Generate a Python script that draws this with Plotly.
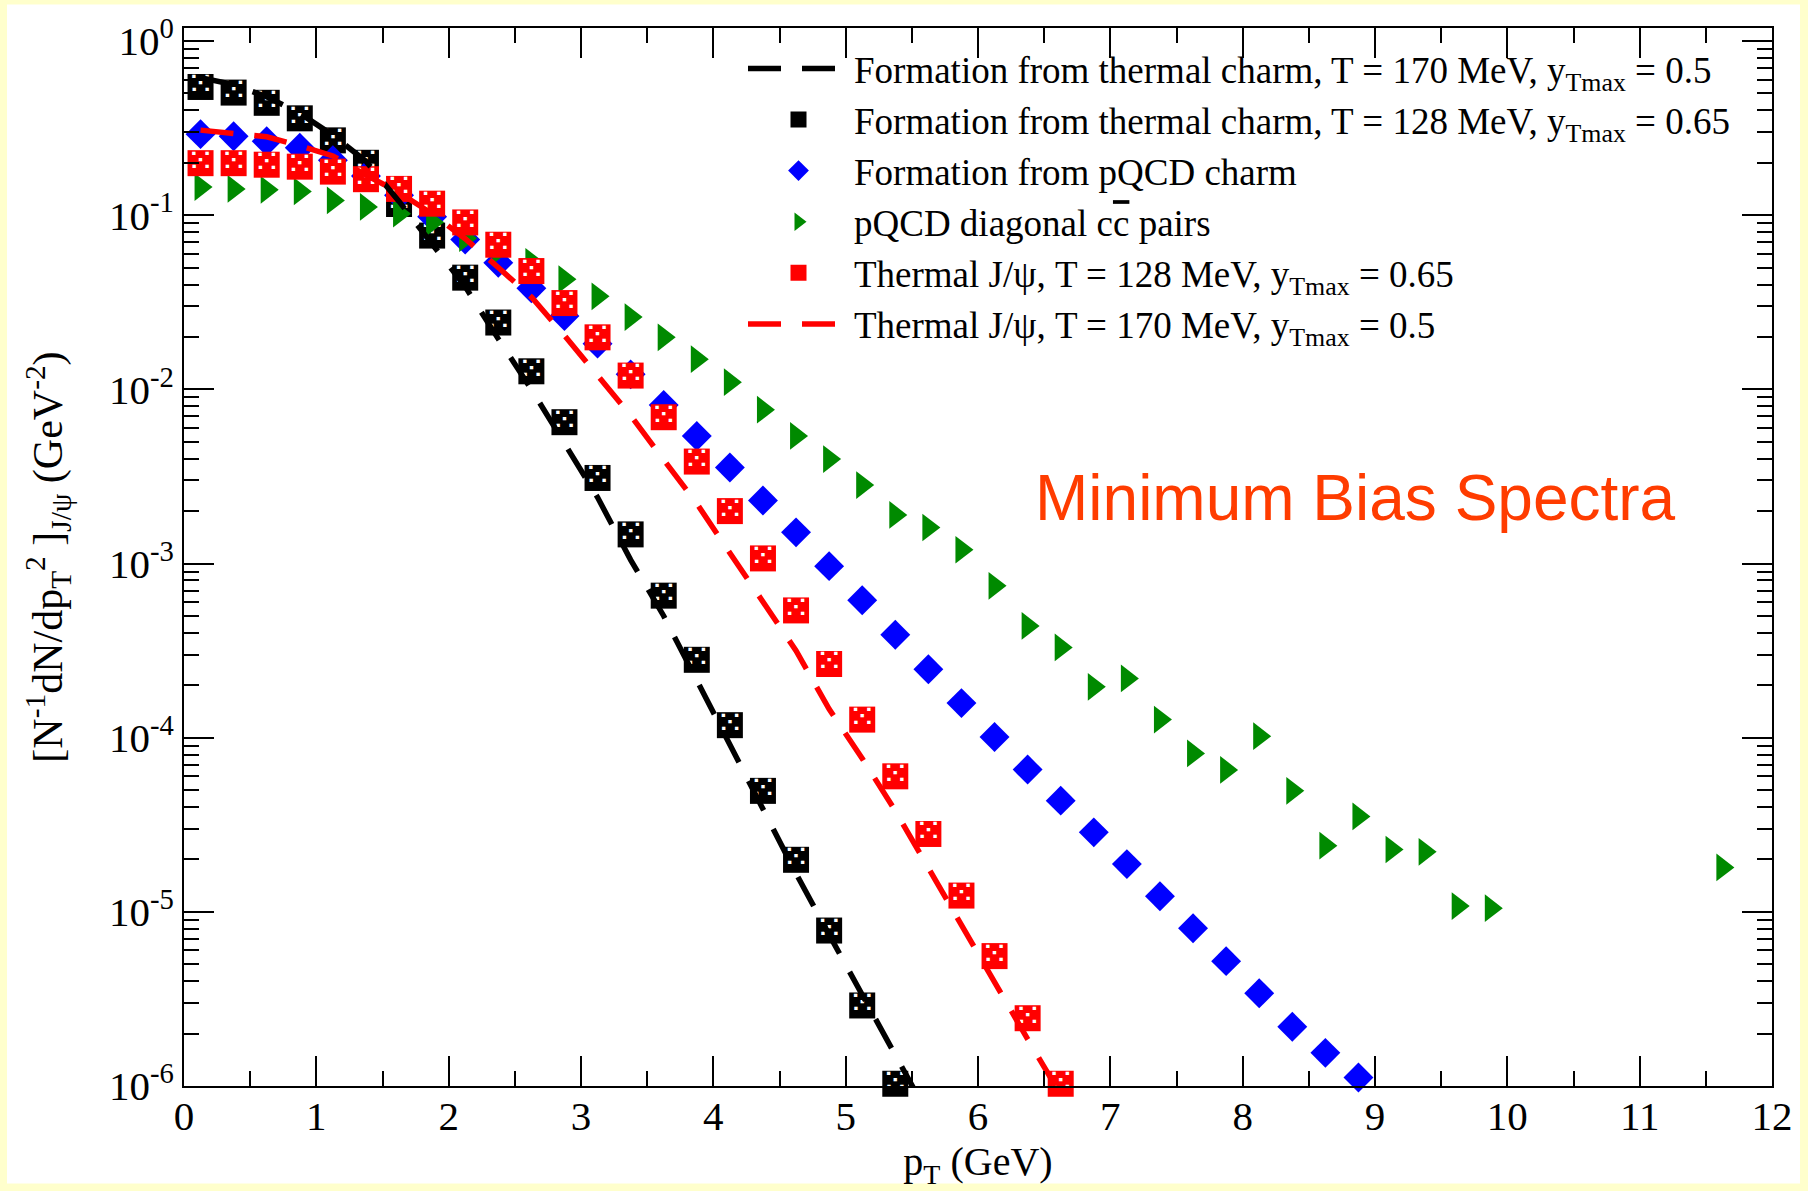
import plotly.graph_objects as go

# ---- data -------------------------------------------------------------
# transverse-momentum bins (GeV)
pt_black_sq = [0.125, 0.375, 0.625, 0.875, 1.125, 1.375, 1.625, 1.875, 2.125, 2.375,
               2.625, 2.875, 3.125, 3.375, 3.625, 3.875, 4.125, 4.375, 4.625, 4.875,
               5.125, 5.375]
black_sq = [0.545, 0.506, 0.442, 0.360, 0.269, 0.200, 0.116, 0.0764, 0.0438, 0.0242,
            0.0127, 0.00648, 0.0031, 0.00147, 6.54e-4, 2.80e-4, 1.18e-4, 4.95e-5, 1.99e-5, 7.81e-6,
            2.90e-6, 1.03e-6]

pt_black_line = [0.125, 0.375, 0.625, 0.875, 1.125, 1.375, 1.625, 1.875, 2.125, 2.375,
                 2.625, 2.875, 3.125, 3.375, 3.625, 3.875, 4.125, 4.375, 4.625, 4.875,
                 5.125, 5.375, 5.625]
black_line = [0.617, 0.562, 0.479, 0.385, 0.288, 0.204, 0.120, 0.0692, 0.0389, 0.0195,
              0.0100, 0.0049, 0.0024, 0.00105, 5.0e-4, 2.14e-4, 9.1e-5, 3.9e-5, 1.66e-5, 7.4e-6,
              3.3e-6, 1.48e-6, 6.8e-7]

pt_blue = [0.125, 0.375, 0.625, 0.875, 1.125, 1.375, 1.625, 1.875, 2.125, 2.375,
           2.625, 2.875, 3.125, 3.375, 3.625, 3.875, 4.125, 4.375, 4.625, 4.875,
           5.125, 5.375, 5.625, 5.875, 6.125, 6.375, 6.625, 6.875, 7.125, 7.375,
           7.625, 7.875, 8.125, 8.375, 8.625, 8.875]
blue_dia = [0.292, 0.284, 0.266, 0.244, 0.207, 0.168, 0.130, 0.098, 0.0725, 0.0533,
            0.0381, 0.0264, 0.0183, 0.0122, 0.00813, 0.0054, 0.00356, 0.0023, 0.00151, 9.66e-4,
            6.15e-4, 3.9e-4, 2.47e-4, 1.58e-4, 1.01e-4, 6.56e-5, 4.35e-5, 2.86e-5, 1.88e-5, 1.23e-5,
            8.05e-6, 5.21e-6, 3.41e-6, 2.19e-6, 1.55e-6, 1.12e-6]

pt_green = [0.125, 0.375, 0.625, 0.875, 1.125, 1.375, 1.625, 1.875, 2.125, 2.375,
            2.625, 2.875, 3.125, 3.375, 3.625, 3.875, 4.125, 4.375, 4.625, 4.875,
            5.125, 5.375, 5.625, 5.875, 6.125, 6.375, 6.625, 6.875, 7.125, 7.375,
            7.625, 7.875, 8.125, 8.375, 8.625, 8.875, 9.125, 9.375, 9.625, 9.875,
            11.625]
green_tri = [0.145, 0.1416, 0.140, 0.137, 0.1216, 0.1115, 0.102, 0.091, 0.0738, 0.0626,
             0.054, 0.0429, 0.0342, 0.026, 0.0199, 0.0149, 0.0110, 0.00764, 0.0054, 0.00398,
             0.00282, 0.0019, 0.00161, 0.0012, 7.45e-4, 4.38e-4, 3.3e-4, 1.96e-4, 2.19e-4, 1.27e-4,
             8.12e-5, 6.53e-5, 1.02e-4, 4.95e-5, 2.4e-5, 3.53e-5, 2.28e-5, 2.21e-5, 1.08e-5, 1.05e-5,
             1.8e-5]

pt_red_sq = [0.125, 0.375, 0.625, 0.875, 1.125, 1.375, 1.625, 1.875, 2.125, 2.375,
             2.625, 2.875, 3.125, 3.375, 3.625, 3.875, 4.125, 4.375, 4.625, 4.875,
             5.125, 5.375, 5.625, 5.875, 6.125, 6.375, 6.625]
red_sq = [0.199, 0.199, 0.195, 0.190, 0.178, 0.161, 0.1416, 0.1165, 0.0909, 0.0677,
          0.0478, 0.0313, 0.0199, 0.0120, 0.00692, 0.00385, 0.0020, 0.00107, 5.38e-4, 2.65e-4,
          1.27e-4, 6.0e-5, 2.8e-5, 1.24e-5, 5.57e-6, 2.45e-6, 1.03e-6]

pt_red_line = [0.125, 0.375, 0.625, 0.875, 1.125, 1.375, 1.625, 1.875, 2.125, 2.375,
               2.625, 2.875, 3.125, 3.375, 3.625, 3.875, 4.125, 4.375, 4.625, 4.875,
               5.125, 5.375, 5.625, 5.875, 6.125, 6.375, 6.625]
red_line = [0.308, 0.297, 0.282, 0.251, 0.219, 0.170, 0.135, 0.102, 0.0733, 0.0501,
            0.0339, 0.0204, 0.01216, 0.00708, 0.00394, 0.00221, 0.00115, 6.0e-4, 3.16e-4, 1.46e-4,
            7.6e-5, 3.8e-5, 1.78e-5, 8.3e-6, 3.98e-6, 1.86e-6, 8.9e-7]

y_tickvals = [1e-6, 1e-5, 1e-4, 1e-3, 1e-2, 1e-1, 1e0]
y_ticktext = ["10<sup>-6</sup>", "10<sup>-5</sup>", "10<sup>-4</sup>", "10<sup>-3</sup>",
              "10<sup>-2</sup>", "10<sup>-1</sup>", "10<sup>0</sup>"]

# ---- styling ----------------------------------------------------------
W, H = 1808, 1191
ML, MR, MT, MB = 184, 36, 13, 105
SERIF = "Liberation Serif, Times New Roman, serif"
BLACK, BLUE, GREEN, RED = "#000000", "#0000ff", "#008a00", "#ff0000"
DASH = "33px,21px"
DOTS = "\u2059"  # dotted fill texture drawn over the square markers

fig = go.Figure()


def dotted_overlay(x, y):
    return go.Scatter(x=x, y=y, mode="text", text=[DOTS] * len(x),
                      textfont=dict(color="white", size=34, family="DejaVu Sans"),
                      showlegend=False, hoverinfo="skip", cliponaxis=False)


fig.add_trace(go.Scatter(
    x=pt_black_sq, y=black_sq, mode="markers", legendrank=2, legendgroup="g2",
    name="Formation from thermal charm, T = 128 MeV, y<sub>Tmax</sub> = 0.65",
    marker=dict(symbol="square", size=26, color=BLACK, line=dict(width=0)),
    cliponaxis=False))
fig.add_trace(dotted_overlay(pt_black_sq, black_sq))

fig.add_trace(go.Scatter(
    x=pt_blue, y=blue_dia, mode="markers", legendrank=3, legendgroup="g3",
    name="Formation from pQCD charm",
    marker=dict(symbol="diamond", size=23, color=BLUE, line=dict(width=0)),
    cliponaxis=False))

fig.add_trace(go.Scatter(
    x=pt_green, y=green_tri, mode="markers", legendrank=4, legendgroup="g4",
    name="pQCD diagonal c<span style='text-decoration:overline'>c</span> pairs",
    marker=dict(symbol="triangle-right", size=24, color=GREEN, line=dict(width=0)),
    cliponaxis=False))

fig.add_trace(go.Scatter(
    x=pt_red_sq, y=red_sq, mode="markers", legendrank=5, legendgroup="g5",
    name="Thermal J/\u03c8, T = 128 MeV, y<sub>Tmax</sub> = 0.65",
    marker=dict(symbol="square", size=26, color=RED, line=dict(width=0)),
    cliponaxis=False))
fig.add_trace(dotted_overlay(pt_red_sq, red_sq))

fig.add_trace(go.Scatter(
    x=pt_black_line, y=black_line, mode="lines", legendrank=1, legendgroup="g1",
    name="Formation from thermal charm, T = 170 MeV, y<sub>Tmax</sub> = 0.5",
    line=dict(color=BLACK, width=5.5, dash=DASH)))

fig.add_trace(go.Scatter(
    x=pt_red_line, y=red_line, mode="lines", legendrank=6, legendgroup="g6",
    name="Thermal J/\u03c8, T = 170 MeV, y<sub>Tmax</sub> = 0.5",
    line=dict(color=RED, width=5.5, dash=DASH)))

pw = W - ML - MR
ph = H - MT - MB

# pale frame around the white page
fig.add_shape(type="rect", xref="paper", yref="paper", layer="below",
              x0=(7 - ML) / pw, x1=(W - 8 - ML) / pw,
              y0=-(H - 6 - MT - ph) / ph, y1=(MT + ph) / ph + 0.01,
              fillcolor="white", line=dict(width=0))

fig.add_annotation(text="Minimum Bias Spectra", xref="paper", yref="paper",
                   x=(1033 - ML) / pw, y=1 - (490 - MT) / ph,
                   xanchor="left", yanchor="middle", showarrow=False,
                   font=dict(family="Liberation Sans, Arial, sans-serif", size=64, color="#ff3c00"))

axis_common = dict(showline=True, linecolor="black", linewidth=2, mirror="ticks",
                   ticks="inside", ticklen=30, tickwidth=2, tickcolor="black",
                   showgrid=False, zeroline=False, ticklabeloverflow="allow",
                   tickfont=dict(family=SERIF, size=41, color="black"))

fig.update_xaxes(range=[0, 12], tick0=0, dtick=1, ticklabelstandoff=-7,
                 minor=dict(ticks="inside", dtick=0.5, ticklen=15, tickwidth=2, tickcolor="black"),
                 title=dict(text="p<sub>T</sub> (GeV)", font=dict(family=SERIF, size=40, color="black"),
                            standoff=2),
                 **axis_common)
fig.update_yaxes(type="log", range=[-6, 0.075], tickmode="array",
                 tickvals=y_tickvals, ticktext=y_ticktext,
                 minor=dict(ticks="inside", dtick="D1", ticklen=15, tickwidth=2, tickcolor="black"),
                 title=dict(text="[N<sup>-1</sup>dN/dp<sub>T</sub><sup>2</sup> ]<sub>J/\u03c8</sub> (GeV<sup>-2</sup>)",
                            font=dict(family=SERIF, size=42, color="black"), standoff=33),
                 **axis_common)

fig.update_layout(
    width=W, height=H,
    margin=dict(l=ML, r=MR, t=MT, b=MB),
    paper_bgcolor="#ffffcc", plot_bgcolor="white",
    showlegend=True,
    legend=dict(x=(743 - ML) / pw, y=1 - (23 - MT) / ph, xanchor="left", yanchor="top",
                bgcolor="rgba(0,0,0,0)", borderwidth=0, itemwidth=101,
                tracegroupgap=15, traceorder="normal",
                font=dict(family=SERIF, size=37, color="black")),
)

fig.write_html("out.html")
